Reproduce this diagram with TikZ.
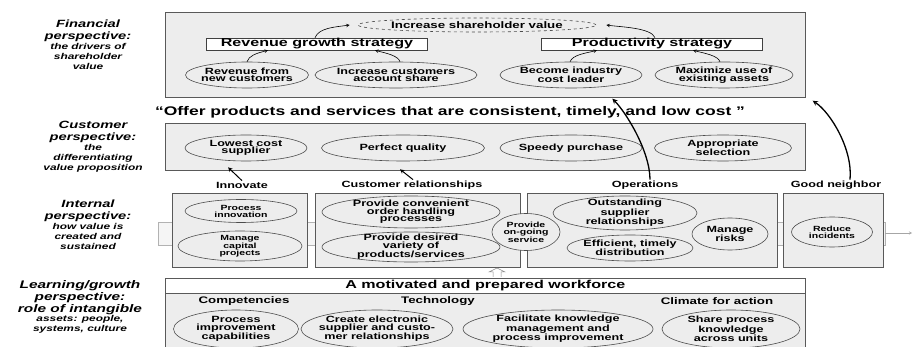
\documentclass[tikz,border=0pt]{standalone}
\usepackage{fontspec}
\setmainfont{Liberation Sans}[FakeStretch=1.4]
\usepackage{tikz}
\usetikzlibrary{arrows}
\usetikzlibrary{calc}
\usetikzlibrary{positioning}
\usetikzlibrary{shapes.geometric}

\begin{document}
\begin{tikzpicture}
		[x=1pt, y=-1pt,
		panel/.style={draw=black!65, fill=black!7, line width=0.7pt, inner sep=0pt, anchor=north west},
		oval/.style 2 args={ellipse, draw=black!70, fill=black!7, line width=0.6pt, inner sep=0pt, minimum width=#1pt, minimum height=#2pt},
		etext/.style={align=center, inner sep=0pt, font=\bfseries\fontsize{9}{7.5}\selectfont},
		stext/.style={align=center, inner sep=0pt, font=\bfseries\fontsize{7.5}{7}\selectfont},
		strat/.style={draw=black!75, fill=white, line width=0.7pt, minimum height=12pt, inner sep=0pt, font=\bfseries\fontsize{11.5}{12}\selectfont},
		persphead/.style={align=center, inner sep=0pt, font=\bfseries\itshape\fontsize{10.5}{12.5}\selectfont},
		perspsub/.style={align=center, inner sep=0pt, font=\bfseries\itshape\fontsize{8.5}{10}\selectfont},
		theme/.style={inner sep=1pt, font=\bfseries\fontsize{9}{9}\selectfont},
		heading/.style={inner sep=1pt, font=\bfseries\fontsize{9.5}{10}\selectfont},
		flow/.style={->, >=stealth, line width=0.6pt},
		bigflow/.style={->, >=stealth, line width=1.3pt}]
		\useasboundingbox (0,0) rectangle (913,347);

		% perspective labels
		\node[persphead] (fintitle) at (88,31) {Financial\\perspective:};
		\node[perspsub, below=1pt of fintitle] (finsub) {the drivers of\\shareholder\\value};
		\node[persphead] (custtitle) at (93,132) {Customer\\perspective:};
		\node[perspsub, below=1pt of custtitle] (custsub) {the\\differentiating\\value proposition};
		\node[persphead] (inttitle) at (88,211) {Internal\\perspective:};
		\node[perspsub, below=1pt of inttitle] (intsub) {how value is\\created and\\sustained};
		\node[persphead, font=\bfseries\itshape\fontsize{11}{12}\selectfont] (learntitle) at (80,298) {Learning/growth\\perspective:\\role of intangible};
		\node[perspsub, below=0pt of learntitle] (learnsub) {assets: people,\\systems, culture};

		% financial
		\node[panel, minimum width=640pt, minimum height=85pt] (fin) at (165,12) {};
		\node[oval={238}{14}, dashed] (shv) at (477,25) {};
		\node[etext, font=\bfseries\fontsize{9.5}{10}\selectfont] at (shv) {Increase shareholder value};
		\node[strat, minimum width=221pt] (revgrow) at (317,44) {Revenue growth strategy};
		\node[strat, minimum width=221pt] (prodstrat) at (652,44) {Productivity strategy};
		\node[oval={123}{26}] (revnew) at (247,75) {};
		\node[etext] at (revnew) {Revenue from\\new customers};
		\node[oval={162}{26}] (incshare) at (396,75) {};
		\node[etext] at (incshare) {Increase customers\\account share};
		\node[oval={142}{26}] (costlead) at (571,75) {};
		\node[etext] at (costlead) {Become industry\\cost leader};
		\node[oval={138}{26}] (maxuse) at (724,75) {};
		\node[etext] at (maxuse) {Maximize use of\\existing assets};

		\draw[flow] (revnew.north) .. controls +(2,-6) and +(-12,3) .. ([xshift=-49pt]revgrow.south);
		\draw[flow] ([xshift=4pt]incshare.north) .. controls +(-2,-6) and +(12,3) .. ([xshift=58pt]revgrow.south);
		\draw[flow] ([xshift=-2pt]revgrow.north) .. controls +(4,-10) and +(-14,2) .. ([xshift=-8pt]shv.west);
		\draw[flow] ([xshift=3pt]prodstrat.north) .. controls +(-4,-10) and +(14,2) .. ([xshift=10pt]shv.east);
		\draw[flow] ([xshift=-1pt]costlead.north) .. controls +(3,-7) and +(-12,3) .. ([xshift=-55pt]prodstrat.south);
		\draw[flow] ([xshift=-4pt]maxuse.north) .. controls +(-2,-6) and +(12,3) .. ([xshift=41pt]prodstrat.south);

		\node[inner sep=0pt, font=\bfseries\fontsize{12.5}{13}\selectfont] (offer) at (450,112) {``Offer products and services that are consistent, timely, and low cost~''};

		% customer
		\node[panel, minimum width=640pt, minimum height=47pt] (cust) at (165,123) {};
		\node[oval={122}{26}] (lowcost) at (246,148) {};
		\node[etext] at (lowcost) {Lowest cost\\supplier};
		\node[oval={163}{26}] (perfq) at (403,148) {};
		\node[etext] at (perfq) {Perfect quality};
		\node[oval={142}{26}] (speedy) at (571,148) {};
		\node[etext] at (speedy) {Speedy purchase};
		\node[oval={137}{26}] (approp) at (723,148) {};
		\node[etext] at (approp) {Appropriate\\selection};

		\node[theme] (innov) at (242,185) {Innovate};
		\node[theme] (custrel) at (412,185) {Customer relationships};
		\node[theme] (opers) at (645,185) {Operations};
		\node[theme] (goodn) at (836,185) {Good neighbor};

		\draw[flow, line width=1pt] (innov.north) -- ($(lowcost.south)+(-18,6)$);
		\draw[flow, line width=1pt] ([xshift=1pt]custrel.north) -- ($(perfq.south)+(-3,8)$);

		% internal
		\draw[black!30, fill=black!4] (158,222) rectangle (885,245);
		\draw[black!35, ->, >=stealth] (885,233) -- (912,233);
		\node[panel, minimum width=135pt, minimum height=74pt] (innovbox) at (172,193) {};
		\node[panel, minimum width=205pt, minimum height=74pt] (crbox) at (315,193) {};
		\node[panel, minimum width=250pt, minimum height=74pt] (opsbox) at (527,193) {};
		\node[panel, minimum width=100pt, minimum height=74pt] (gnbox) at (783,193) {};

		\node[oval={112}{23}] (procinn) at (241,211) {};
		\node[stext] at (procinn) {Process\\innovation};
		\node[oval={124}{30}] (capproj) at (240,246) {};
		\node[stext] at (capproj) {Manage\\capital\\projects};
		\node[oval={178}{32}] (orderh) at (411,212) {};
		\node[etext] at (orderh) {Provide convenient\\order handling\\processes};
		\node[oval={178}{30}] (variety) at (411,247) {};
		\node[etext] at (variety) {Provide desired\\variety of\\products/services};
		\node[oval={144}{34}] (supplier) at (625,213) {};
		\node[etext] at (supplier) {Outstanding\\supplier\\relationships};
		\node[oval={126}{26}] (distrib) at (630,248) {};
		\node[etext] at (distrib) {Efficient, timely\\distribution};
		\node[oval={68}{37}] (ongoing) at (526,232) {};
		\node[stext] at (ongoing) {Provide\\on-going\\service};
		\node[oval={76}{32}] (risks) at (730,234) {};
		\node[etext] at (risks) {Manage\\risks};
		\node[oval={81}{30}] (incid) at (832,232) {};
		\node[stext] at (incid) {Reduce\\incidents};

		\draw[black!45, line width=0.5pt] (493,277) -- (493,272) -- (489,272) -- (497,268) -- (505,272) -- (501,272) -- (501,277);

		% learning and growth
		\node[panel, minimum width=640pt, minimum height=90pt] (learn) at (165,278) {};
		\node[panel, fill=white, minimum width=640pt, minimum height=15pt, font=\bfseries\fontsize{11.5}{12}\selectfont] (workforce) at (165,278) {A motivated and prepared workforce};
		\node[heading] (comp) at (244,301) {Competencies};
		\node[heading] (tech) at (438,301) {Technology};
		\node[heading] (climate) at (717,301) {Climate for action};
		\node[oval={125}{38}] (procimp) at (236,329) {};
		\node[etext] at (procimp) {Process\\improvement\\capabilities};
		\node[oval={152}{38}] (elec) at (377,329) {};
		\node[etext] at (elec) {Create electronic\\supplier and custo-\\mer relationships};
		\node[oval={190}{38}] (facil) at (558,329) {};
		\node[etext] at (facil) {Facilitate knowledge\\management and\\process improvement};
		\node[oval={138}{38}] (share) at (731,329) {};
		\node[etext] at (share) {Share process\\knowledge\\across units};

		% strategic themes lead up
		\draw[bigflow] ([xshift=5pt]opers.north) .. controls +(0,-28) and +(14,14) .. ($(fin.south)+(127,1)$);
		\draw[bigflow] ([xshift=14pt]goodn.north) .. controls +(3,-30) and +(18,12) .. ($(fin.south east)+(7,3)$);
	\end{tikzpicture}
\end{document}
